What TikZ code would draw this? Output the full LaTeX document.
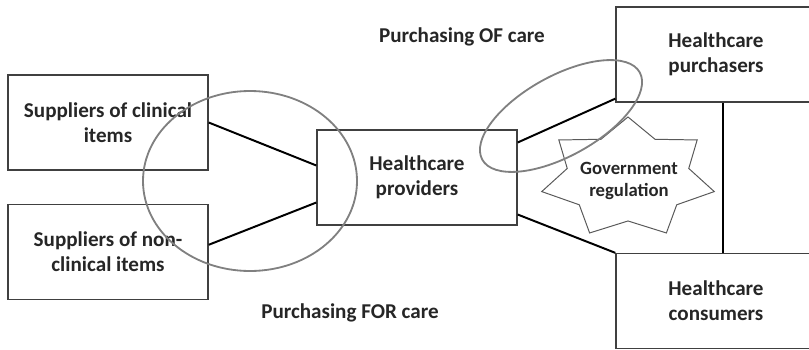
\documentclass[tikz,border=0pt]{standalone}
\usepackage{fontspec}
\setmainfont{Carlito}
\usetikzlibrary{positioning}
\usetikzlibrary{shapes.geometric, calc}

\begin{document}
\begin{tikzpicture}[x=0.025cm, y=-0.025cm,
    font=\bfseries\fontsize{15}{17.8}\selectfont,
    boxnode/.style={rectangle, draw=black!75, line width=0.9pt,
      text=black!85, align=center, minimum width=5cm,
      minimum height=2.375cm, inner sep=0pt},
    starnode/.style={star, star points=7, star point ratio=1.42,
      draw=black!65, line width=0.7pt, fill=white, minimum size=3.05cm,
      inner sep=0pt, xscale=1.45},
    captext/.style={text=black!85, align=center, inner sep=0pt},
    link/.style={draw=black, line width=1.4pt},
    ring/.style={draw=black!50, line width=1.3pt}, ]
    \useasboundingbox (0,0) rectangle (809,349);
    % Nodes
    \node[boxnode] (clin) at (108,122.5) {Suppliers of clinical\\items};
    \node[boxnode] (nonclin) [below=0.825cm of clin]
    {Suppliers of non-\\clinical items}; \node[boxnode] (prov) at
    (417,177.5) {Healthcare\\providers}; \node[boxnode] (purch) at
    (716,54.5) {Healthcare\\purchasers}; \node[boxnode] (cons) at
    (716,301) {Healthcare\\consumers};
    \node[starnode] (govstar) at (628,178) {}; \node[captext,
    font=\bfseries\fontsize{13.3}{15.8}\selectfont] (gov) at (629,181)
    {Government\\regulation};
    \node[captext] (ofcare) at (462,37) {Purchasing OF care};
    \node[captext] (forcare) at (350,313) {Purchasing FOR care};
    \coordinate (vx) at (723,0);
    % Lines
    \draw[link] (clin.east) -- ($(prov.west)+(0,-12)$); \draw[link]
    ($(nonclin.east)+(0,-7)$) -- ($(prov.west)+(0,25)$); \draw[link]
    ($(prov.east)+(0,-35)$) -- ($(purch.south west)+(0,-4)$);
    \draw[link] ($(prov.east)+(0,37)$) -- (cons.north west);
    \draw[link] (vx |- purch.south) -- (vx |- cons.north);
    % Rings
    \draw[ring] (250,181) ellipse [x radius=107, y radius=90];
    \draw[ring, rotate around={29:(561,116)}] (561,116) ellipse
    [x radius=90, y radius=40];
  \end{tikzpicture}
\end{document}
